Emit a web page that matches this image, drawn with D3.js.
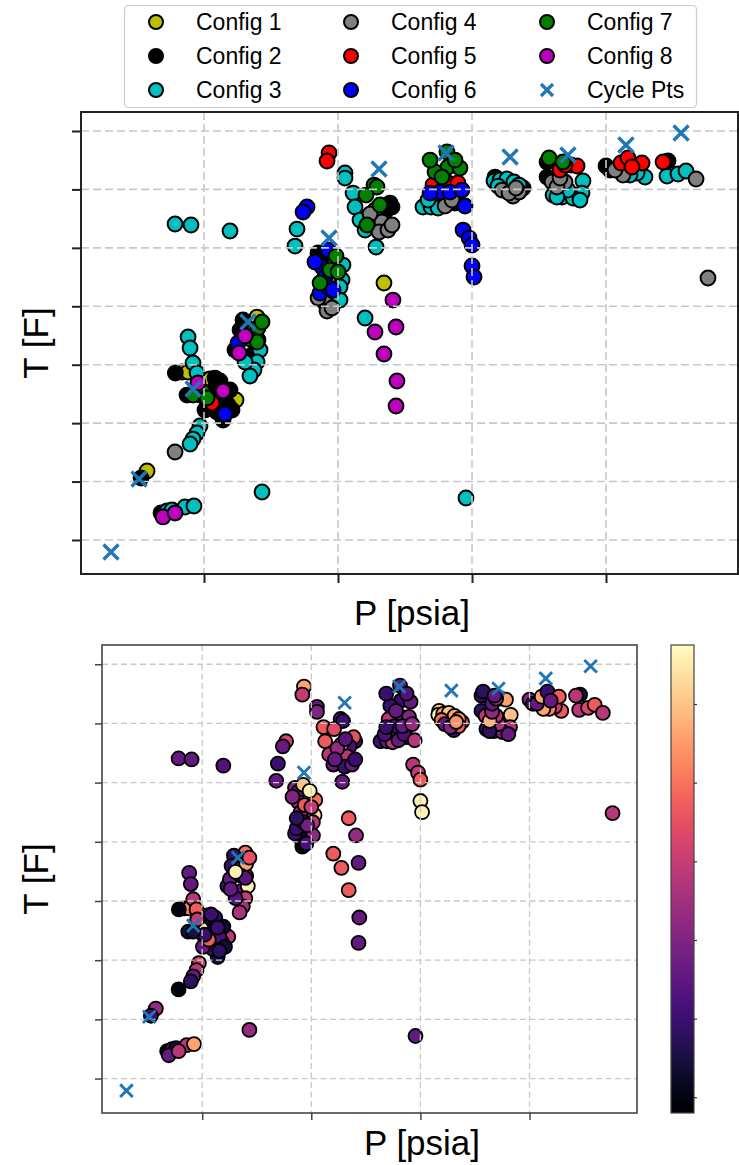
<!DOCTYPE html>
<html>
<head>
<meta charset="utf-8">
<script src="https://cdn.jsdelivr.net/npm/d3@7"></script>
<style>
  body { margin: 0; background: #fff; }
  svg { display: block; }
  text { font-family: "Liberation Sans", Arial, sans-serif; fill: #000; }
</style>
</head>
<body>
<svg id="fig" width="739" height="1165"></svg>
<script>
// ---- data: each point is [P (psia), T (F), colour value] ----
const configNames = ["Config 1", "Config 2", "Config 3", "Config 4",
                     "Config 5", "Config 6", "Config 7", "Config 8"];
const configColors = ["#bfbf00", "#000000", "#00bfbf", "#808080",
                      "#ff0000", "#0000ff", "#008000", "#bf00bf"];

const config1 = [
  [57.5,118.1,2.3],[83.6,287.5,5.6],[104.5,275.5,4.6],[121.6,237.9,1.0],
  [139.6,381.6,4.0],[234.3,439.8,3.7],[123.9,239.6,2.8],[88.1,287.5,4.2]
];
const config2 = [
  [53.0,106.1,1.0],[67.9,46.2,0.0],[78.6,285.8,0.0],[111.9,272.1,1.0],
  [102.2,239.6,0.3],[114.2,205.4,0.5],[109.7,219.0,1.0],[119.4,256.7,0.3],
  [87.3,248.1,0.5],[108.2,260.1,0.3],[117.9,231.0,1.0],[97.0,248.1,0.8],
  [106.7,248.1,0.6],[115.7,239.6,1.2],[120.9,222.5,0.4],[100.7,222.5,1.6],[108.2,277.2,1.0],
  [129.1,376.5,0.8],[123.1,325.2,1.2],[135.8,316.6,1.6],[126.9,359.4,1.0],
  [185.1,491.2,2.0],[188.1,484.3,1.6],
  [240.3,569.9,1.0],[238.8,576.7,3.5],[235.1,561.3,1.2],
  [287.3,576.7,1.0],[317.2,621.2,5.0],
  [338.1,602.4,3.7],[356.0,646.9,1.0],[356.0,621.2,0.8],[400.0,640.1,2.0],
  [403.0,633.2,1.0],[446.3,648.6,0.5]
];
const config3 = [
  [72.4,49.6,1.6],[76.1,51.3,0.5],[85.8,56.5,2.8],[92.5,58.2,4.6],
  [97.0,195.1,3.2],[94.8,183.1,2.8],[91.8,172.8,1.6],[89.6,164.3,0.8],
  [88.1,347.4,1.6],[89.6,328.6,1.6],[91.8,302.9,2.8],[94.8,285.8,3.7],
  [141.8,325.2,5.6],[139.6,304.6,3.0],[137.3,290.9,2.5],[140.3,342.3,5.4],
  [134.3,280.7,2.6],[130.6,304.6,1.4],
  [143.3,82.1,2.3],
  [78.4,540.8,1.6],[90.3,539.1,1.6],[119.4,528.8,1.3],
  [169.4,532.2,1.0],[167.9,503.1,1.6],
  [205.2,628.1,1.6],[205.2,619.5,2.0],[211.2,593.8,3.7],[212.7,569.9,3.7],
  [216.4,547.6,2.8],[220.2,530.5,1.6],
  [203.7,470.6,4.0],[203.0,445.0,5.3],[199.3,415.9,3.7],[201.5,433.0,2.8],[201.5,410.7,2.2],
  [228.4,501.4,1.6],[220.2,379.9,3.7],
  [263.4,569.9,1.0],[269.4,569.9,1.6],[274.6,568.2,2.8],[267.2,581.8,1.2],
  [316.4,614.4,5.6],[320.9,616.1,4.6],[326.1,617.8,5.0],[331.3,612.7,4.6],[335.1,607.5,4.6],
  [319.4,605.8,4.0],
  [382.8,614.4,5.0],[382.1,593.8,2.8],[367.2,587.0,1.6],[375.4,585.3,2.0],
  [360.5,590.4,1.0],[380.6,581.8,1.6],[371.6,599.0,2.6],[363.4,587.0,0.8],
  [429.1,621.2,3.7],[423.2,628.1,3.0],[417.9,624.6,4.2],
  [445.5,622.9,2.8],[453.7,626.4,3.3],[459.7,631.5,3.7],
  [295.5,71.9,1.6]
];
const config4 = [
  [78.4,150.6,0.0],
  [190.3,405.6,0.5],[191.8,391.9,0.0],[185.1,414.2,1.0],[195.5,397.1,1.2],
  [227.6,564.7,5.6],[232.8,544.2,2.8],[230.6,527.1,1.0],[237.3,530.5,1.6],
  [223.9,557.9,2.3],[240.3,539.1,1.0],
  [279.9,571.6,1.6],[285.1,581.8,1.2],
  [322.4,598.9,1.6],[330.6,588.7,1.0],[335.1,595.5,3.7],[327.6,593.8,2.0],[332.8,602.4,4.4],
  [359.7,612.7,2.8],[369.4,612.7,2.8],[363.4,604.1,4.8],[365.7,619.5,2.2],
  [412.7,624.6,4.6],[406.7,633.2,1.6],[467.2,617.8,2.8],[476.1,448.4,2.8]
];
const config5 = [
  [106.0,234.5,3.7],
  [193.3,662.3,4.6],[191.8,648.6,3.0],
  [277.6,607.5,1.6],[282.1,611.0,2.5],[270.9,607.5,2.8],[289.5,611.0,2.0],
  [365.7,633.2,1.6],[373.9,641.8,2.8],[378.4,640.1,4.6],[369.4,641.8,2.4],
  [411.2,645.2,4.6],[416.4,653.8,1.0],[426.9,645.2,3.7],[419.4,638.4,1.6],
  [442.6,646.9,2.8]
];
const config6 = [
  [115.7,215.6,0.8],[125.4,337.1,1.6],
  [176.9,569.9,3.3],[173.9,561.3,1.6],
  [192.5,496.3,5.0],[188.1,467.2,2.8],[190.3,450.1,2.3],[186.6,422.7,1.0],[192.5,433.0,1.3],
  [182.8,475.8,2.0],[196.3,427.9,1.8],
  [276.1,595.5,1.0],[283.6,595.5,1.6],[292.5,598.9,2.3],[294.8,571.6,2.8],[268.7,593.8,1.0],
  [293.3,530.5,2.8],[297.8,516.8,3.0],[300.0,504.9,3.7],[300.0,468.9,5.6],[301.5,450.1,5.6]
];
const config7 = [
  [99.3,253.3,5.6],[102.2,243.0,1.0],[91.8,248.1,0.5],
  [136.6,356.0,4.6],[140.3,362.8,4.6],[135.8,342.3,1.0],[143.3,373.1,3.5],[139.6,338.9,1.4],
  [198.5,486.0,5.6],[194.0,462.1,3.7],[186.6,439.8,0.8],[200.0,458.7,3.0],
  [226.9,607.5,1.6],[229.1,604.1,1.0],[221.6,539.1,1.6],[220.9,590.4,3.4],[231.3,573.3,1.4],
  [281.3,664.0,1.6],[282.1,638.4,1.0],[291.0,636.6,1.6],[272.4,629.8,1.0],[277.6,621.2,1.6],
  [268.7,650.3,1.0],[287.3,650.3,1.3],
  [357.5,653.8,0.8],[367.9,646.9,1.6]
];
const config8 = [
  [69.4,39.4,1.6],[78.4,46.2,2.8],
  [95.5,268.7,3.0],[114.2,255.0,1.0],
  [130.6,349.1,5.6],[126.1,320.0,1.6],
  [241.0,410.7,2.3],[227.6,356.0,3.7],[243.3,364.5,1.6],[234.3,318.3,3.7],
  [244.0,272.1,1.6],[243.3,229.3,1.6]
];
const cyclePts = [
  [30.6,-20.5],[51.5,104.4],[91.8,258.4],[132.8,373.1],[193.3,516.9],
  [230.6,635.0],[280.6,662.3],[328.4,655.5],[371.6,659.0],[414.9,676.0],[456.0,696.6]
];

// axis ticks (labels are intentionally blank)
const pTicks = [100, 200, 300, 400];
const tTicks = [0, 100, 200, 300, 400, 500, 600, 700];
const cTicks = [0, 1, 2, 3, 4, 5];
const pDomain = [8.2, 498.5];
const tDomain = [-58.2, 732.5];
const cDomain = [-0.2, 5.75];

const configs = [config1, config2, config3, config4, config5, config6, config7, config8];
const allPoints = configs.flatMap((arr, i) => arr.map(d => ({P: d[0], T: d[1], c: d[2], k: i})));

const svg = d3.select("#fig");
const colour = d3.scaleSequential(d3.interpolateMagma).domain(cDomain);

function panel(box, opt) {
  const g = svg.append("g");
  const x = d3.scaleLinear().domain(pDomain).range([box.x0, box.x1]);
  const y = d3.scaleLinear().domain(tDomain).range([box.y1, box.y0]);

  // scatter points
  g.append("g").selectAll("circle").data(allPoints).join("circle")
    .attr("cx", d => x(d.P)).attr("cy", d => y(d.T)).attr("r", opt.r)
    .attr("fill", d => opt.fill(d))
    .attr("stroke", "#000").attr("stroke-width", opt.sw);

  // dashed grid drawn over the points
  const grid = g.append("g").attr("stroke", "#c8c8c8").attr("stroke-width", opt.gw)
    .attr("stroke-dasharray", opt.dash);
  grid.selectAll(".gx").data(pTicks).join("line")
    .attr("x1", d => x(d)).attr("x2", d => x(d)).attr("y1", box.y0).attr("y2", box.y1);
  grid.selectAll(".gy").data(tTicks).join("line")
    .attr("y1", d => y(d)).attr("y2", d => y(d)).attr("x1", box.x0).attr("x2", box.x1);

  // cycle points
  const s = opt.xs;
  g.append("g").selectAll("path").data(cyclePts).join("path")
    .attr("transform", d => `translate(${x(d[0])},${y(d[1])})`)
    .attr("d", `M${-s},${-s}L${s},${s}M${-s},${s}L${s},${-s}`)
    .attr("stroke", "#1f77b4").attr("stroke-width", opt.xw).attr("fill", "none");

  // axes
  const ax = g.append("g").attr("transform", `translate(0,${box.y1})`)
    .call(d3.axisBottom(x).tickValues(pTicks).tickFormat("").tickSize(opt.tick).tickSizeOuter(0));
  const ay = g.append("g").attr("transform", `translate(${box.x0},0)`)
    .call(d3.axisLeft(y).tickValues(tTicks).tickFormat("").tickSize(opt.tick).tickSizeOuter(0));
  [ax, ay].forEach(a => {
    a.select(".domain").remove();
    a.selectAll("line").attr("stroke", opt.spine).attr("stroke-width", opt.tw);
  });
  g.append("rect").attr("x", box.x0).attr("y", box.y0)
    .attr("width", box.x1 - box.x0).attr("height", box.y1 - box.y0)
    .attr("fill", "none").attr("stroke", opt.spine).attr("stroke-width", opt.bw);
  return {x, y};
}

// top panel: coloured by configuration
panel({x0: 81, x1: 738, y0: 112, y1: 574}, {
  r: 7.4, sw: 2, fill: d => configColors[d.k], gw: 1.6, dash: "8,4",
  xs: 7.5, xw: 3.4, tick: 9, tw: 2, bw: 2, spine: "#222"
});
// bottom panel: coloured by the continuous value
panel({x0: 102, x1: 637, y0: 645, y1: 1113}, {
  r: 7, sw: 1.8, fill: d => colour(d.c), gw: 1.3, dash: "6,3.5",
  xs: 6.3, xw: 2.9, tick: 7, tw: 1.5, bw: 1.6, spine: "#444"
});

// colour bar
const cb = {x0: 671, x1: 694, y0: 645, y1: 1113};
const cy = d3.scaleLinear().domain(cDomain).range([cb.y1, cb.y0]);
const defs = svg.append("defs");
const grad = defs.append("linearGradient").attr("id", "magma")
  .attr("x1", 0).attr("y1", 1).attr("x2", 0).attr("y2", 0);
d3.range(0, 1.0001, 0.02).forEach(t => {
  grad.append("stop").attr("offset", t).attr("stop-color", d3.interpolateMagma(t));
});
svg.append("rect").attr("x", cb.x0).attr("y", cb.y0)
  .attr("width", cb.x1 - cb.x0).attr("height", cb.y1 - cb.y0)
  .attr("fill", "url(#magma)").attr("stroke", "#444").attr("stroke-width", 1.2);
const cax = svg.append("g").attr("transform", `translate(${cb.x1},0)`)
  .call(d3.axisRight(cy).tickValues(cTicks).tickFormat("").tickSize(3).tickSizeOuter(0));
cax.select(".domain").remove();
cax.selectAll("line").attr("stroke", "#333").attr("stroke-width", 1.2);

// axis labels
const lab = (x, y, txt, rot) => svg.append("text")
  .attr("transform", `translate(${x},${y})` + (rot ? " rotate(-90)" : ""))
  .attr("text-anchor", "middle").attr("font-size", 35).text(txt);
lab(412, 625, "P [psia]");
lab(422, 1155, "P [psia]");
lab(48, 343, "T [F]", true);
lab(48, 879, "T [F]", true);

// legend
const leg = svg.append("g");
leg.append("rect").attr("x", 124.5).attr("y", 5.5).attr("width", 572).attr("height", 102)
  .attr("rx", 4).attr("fill", "#fff").attr("fill-opacity", 0.8)
  .attr("stroke", "#cccccc").attr("stroke-width", 1.2);
const legendItems = configNames.map((n, i) => ({name: n, color: configColors[i], cross: false}))
  .concat([{name: "Cycle Pts", color: "#1f77b4", cross: true}]);
const colX = [156, 351, 547], rowY = [22, 56, 90];
legendItems.forEach((it, i) => {
  const cx = colX[Math.floor(i / 3)], cyy = rowY[i % 3];
  if (it.cross) {
    leg.append("path").attr("transform", `translate(${cx},${cyy})`)
      .attr("d", "M-6,-6L6,6M-6,6L6,-6").attr("stroke", it.color)
      .attr("stroke-width", 3.2).attr("fill", "none");
  } else {
    leg.append("circle").attr("cx", cx).attr("cy", cyy).attr("r", 7)
      .attr("fill", it.color).attr("stroke", "#000").attr("stroke-width", 2);
  }
  leg.append("text").attr("x", cx + 40).attr("y", cyy + 8)
    .attr("font-size", 23).text(it.name);
});
</script>
</body>
</html>
